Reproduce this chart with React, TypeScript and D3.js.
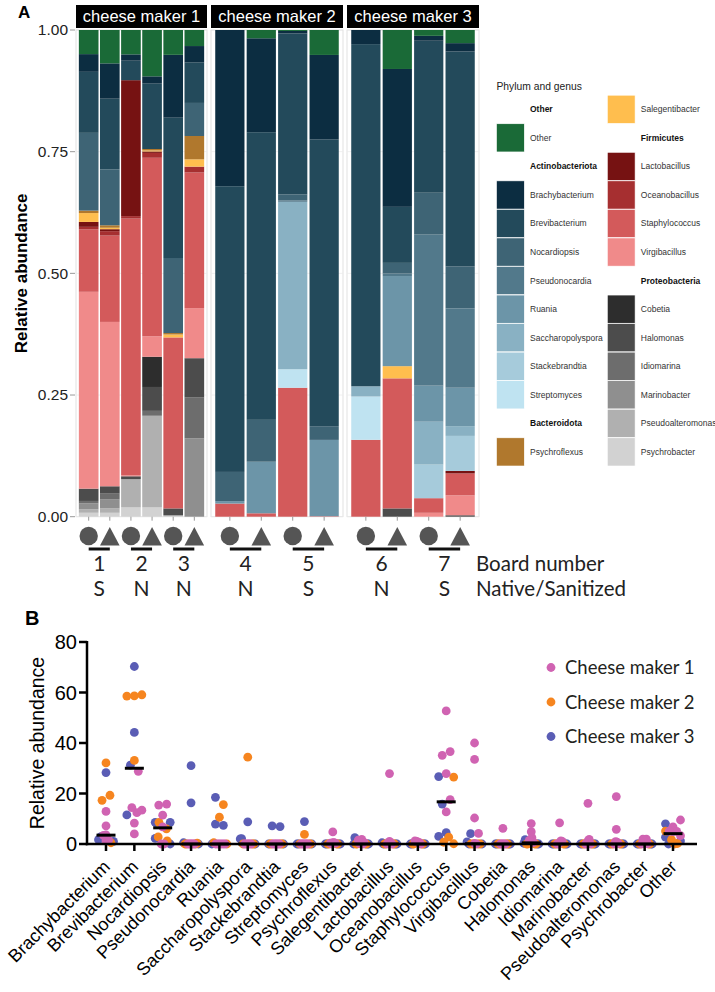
import * as d3 from 'd3';

// genera, in legend / stacking order (top of bar first)
const genera = [
  'Other', 'Brachybacterium', 'Brevibacterium', 'Nocardiopsis', 'Pseudonocardia', 'Ruania',
  'Saccharopolyspora', 'Stackebrandtia', 'Streptomyces', 'Psychroflexus', 'Salegentibacter',
  'Lactobacillus', 'Oceanobacillus', 'Staphylococcus', 'Virgibacillus', 'Cobetia', 'Halomonas',
  'Idiomarina', 'Marinobacter', 'Pseudoalteromonas', 'Psychrobacter',
];
const genusColors = [
  '#1a6a37', '#0c2d41', '#234a5b', '#3e6475', '#52798b', '#6c95a8',
  '#89b1c3', '#a6cbdb', '#bfe3f1', '#b0782d', '#ffbe4e',
  '#761212', '#a62f30', '#d35a5b', '#f08a8a', '#2d2d2d', '#4c4c4c',
  '#6d6d6d', '#8f8f8f', '#b0b0b0', '#d2d2d2',
];

const legendLeft = [
  { text: 'Other', header: true }, { text: 'Other' },
  { text: 'Actinobacteriota', header: true }, { text: 'Brachybacterium' }, { text: 'Brevibacterium' },
  { text: 'Nocardiopsis' }, { text: 'Pseudonocardia' }, { text: 'Ruania' }, { text: 'Saccharopolyspora' },
  { text: 'Stackebrandtia' }, { text: 'Streptomyces' },
  { text: 'Bacteroidota', header: true }, { text: 'Psychroflexus' },
];
const legendRight = [
  { text: 'Salegentibacter' },
  { text: 'Firmicutes', header: true }, { text: 'Lactobacillus' }, { text: 'Oceanobacillus' },
  { text: 'Staphylococcus' }, { text: 'Virgibacillus' },
  { text: 'Proteobacteria', header: true }, { text: 'Cobetia' }, { text: 'Halomonas' },
  { text: 'Idiomarina' }, { text: 'Marinobacter' }, { text: 'Pseudoalteromonas' }, { text: 'Psychrobacter' },
];

// samples
const makers = ['cheese maker 1', 'cheese maker 2', 'cheese maker 3'];
const makerLegend = ['Cheese maker 1', 'Cheese maker 2', 'Cheese maker 3'];
const makerColors = ['#d063b2', '#f6851f', '#5a5db5'];
const sampleMaker = [0, 0, 0, 0, 0, 0, 1, 1, 1, 1, 2, 2, 2, 2];
const sampleBoard = [0, 0, 1, 1, 2, 2, 3, 3, 4, 4, 5, 5, 6, 6];
const sampleShape = ['circle', 'triangle', 'circle', 'triangle', 'circle', 'triangle', 'circle',
  'triangle', 'circle', 'triangle', 'circle', 'triangle', 'circle', 'triangle'];
const boards = ['1', '2', '3', '4', '5', '6', '7'];
const boardTreatment = ['S', 'N', 'N', 'N', 'S', 'N', 'S'];

// relative abundance (%), one row per genus, one column per sample
const abundance = [
  [4.9, 6.8, 5.0, 9.5, 5.1, 3.3, 0, 1.7, 0.2, 5.1, 0, 8.0, 1.2, 2.7], // Other
  [3.6, 7.2, 1.3, 1.5, 12.9, 3.4, 32.1, 19.3, 0.5, 17.3, 2.9, 28.3, 1.0, 1.7],
  [12.4, 14.4, 4.0, 13.4, 28.8, 8.3, 58.7, 59.1, 33.1, 58.6, 70.3, 11.5, 31.2, 44.2],
  [15.8, 11.4, 0, 0, 15.4, 6.8, 6.0, 8.6, 1.2, 2.8, 0, 2.2, 8.6, 8.6],
  [0, 0, 0, 0, 0, 0, 0, 0, 0.3, 0, 0, 0.5, 31.0, 16.3],
  [0, 0, 0, 0, 0, 0, 0.5, 10.6, 0, 15.6, 0, 18.5, 7.4, 7.9],
  [0, 0, 0, 0, 0, 0, 0, 0, 34.4, 0, 2.1, 0, 8.8, 2.0],
  [0, 0, 0, 0, 0, 0, 0, 0, 0, 0, 0, 0, 6.9, 7.2],
  [0, 0, 0, 0, 0, 0, 0, 0, 3.8, 0, 8.9, 0, 0, 0],
  [0.5, 0.5, 0, 0.3, 0.3, 4.8, 0, 0, 0, 0, 0, 0, 0, 0],
  [1.8, 0.3, 0, 0.2, 0.6, 1.5, 0, 0, 0, 0, 0, 2.5, 0, 0],
  [1.0, 0.4, 27.9, 0.3, 0, 0, 0, 0, 0, 0, 0, 0, 0, 0.5],
  [0.5, 0.9, 0.5, 1.0, 0, 1.2, 0, 0, 0, 0, 0, 0, 0, 0],
  [12.7, 17.6, 52.7, 36.6, 35.1, 27.9, 2.7, 0.7, 26.5, 0.1, 15.8, 26.7, 3.0, 4.5],
  [40.0, 33.5, 0.2, 4.2, 0, 10.3, 0, 0, 0, 0, 0, 0, 0.8, 4.1],
  [0, 0, 0, 6.2, 0, 0, 0, 0, 0, 0, 0, 0, 0, 0],
  [2.5, 1.5, 0.6, 4.9, 1.4, 8.1, 0, 0, 0, 0, 0, 1.7, 0, 0.3],
  [0.5, 1.2, 0, 1.0, 0, 8.4, 0, 0, 0, 0, 0, 0, 0, 0],
  [1.2, 1.8, 0, 0, 0, 16.1, 0, 0, 0, 0, 0, 0, 0, 0],
  [0.7, 0.9, 5.8, 18.8, 0.2, 0, 0, 0, 0, 0, 0, 0, 0, 0],
  [0.8, 0.8, 1.9, 1.9, 0.1, 0, 0, 0, 0, 0, 0, 0, 0, 0], // Psychrobacter
];

const yTicksA = [0, 0.25, 0.5, 0.75, 1];
const yTicksB = [0, 20, 40, 60, 80];

const ARIAL = 'Liberation Sans, Arial, sans-serif';
const MYRIAD = 'Lato, sans-serif';

// panel B genus order: Other goes last
const generaB = [...genera.slice(1), 'Other'];

function swarmOffsets(vals: number[], yScale: (v: number) => number, r: number) {
  const order = d3.range(vals.length).sort((a, b) => vals[a] - vals[b] || sampleMaker[a] - sampleMaker[b]);
  const clusters: number[][] = [];
  order.forEach((i) => {
    const last = clusters[clusters.length - 1];
    if (last && Math.abs(yScale(vals[last[0]]) - yScale(vals[i])) < r * 1.7) last.push(i);
    else clusters.push([i]);
  });
  const off = new Array(vals.length).fill(0);
  clusters.forEach((c) => {
    const k = c.length;
    if (k === 1) return;
    const s = Math.min(2 * r * 0.9, 15 / (k - 1));
    const slots = d3.range(k).map((j) => (j - (k - 1) / 2) * s).sort((a, b) => Math.abs(a) - Math.abs(b) || b - a);
    const members = [...c].sort((a, b) => sampleMaker[a] - sampleMaker[b] || a - b);
    members.forEach((m, j) => (off[m] = slots[j]));
  });
  return off;
}

const App = () => {
  // ---------- panel A ----------
  const yA = d3.scaleLinear().domain([0, 1]).range([516.7, 30]);
  const facetRange: [number, number][] = [[76, 207], [211, 343], [347, 479]];

  const rows = sampleMaker.map((_, s) => Object.fromEntries(genera.map((g, gi) => [g, abundance[gi][s]])));
  const series = d3.stack<any>().keys([...genera].reverse()).offset(d3.stackOffsetExpand)(rows);

  // bar centre / width per sample
  const barX: number[] = [];
  const barW: number[] = [];
  makers.forEach((_, f) => {
    const idx = d3.range(sampleMaker.length).filter((i) => sampleMaker[i] === f);
    const xs = d3.scaleLinear().domain([0.4, idx.length + 0.6]).range(facetRange[f]);
    idx.forEach((s, k) => {
      barX[s] = xs(k + 1);
      barW[s] = xs(1.465) - xs(0.535);
    });
  });

  const colorOf = d3.scaleOrdinal<string, string>().domain(genera).range(genusColors);

  // ---------- panel B ----------
  const xB = d3.scalePoint().domain(generaB).range([106, 673]);
  const yB = d3.scaleLinear().domain([0, 80]).range([844, 642]);
  const r = 4.4;

  const points: { x: number; y: number; m: number }[] = [];
  const medians: { x: number; y: number }[] = [];
  generaB.forEach((g) => {
    const vals = abundance[genera.indexOf(g)];
    const off = swarmOffsets(vals, yB, r);
    vals.forEach((v, s) => points.push({ x: xB(g)! + off[s], y: yB(v), m: sampleMaker[s] }));
    medians.push({ x: xB(g)!, y: yB(d3.median(vals)!) });
  });
  const drawOrder = [2, 1, 0];

  const legendRowY = (i: number) => 109.3 + i * 28.55;

  return (
    <svg width={715} height={992} style={{ position: 'absolute', left: 0, top: 0, background: '#fff' }}>
      {/* ===== Panel A ===== */}
      <text x={18} y={18} fontFamily={ARIAL} fontWeight="bold" fontSize={17}>A</text>
      <text transform={`translate(27,${yA(0.5)}) rotate(-90)`} textAnchor="middle" fontFamily={ARIAL}
        fontWeight="bold" fontSize={17}>Relative abundance</text>
      {yTicksA.map((t) => (
        <g key={t}>
          <text x={68} y={yA(t)} dy="0.35em" textAnchor="end" fontFamily={ARIAL} fontSize={15.5} fill="#222">
            {d3.format('.2f')(t)}
          </text>
          <line x1={70} x2={75} y1={yA(t)} y2={yA(t)} stroke="#999" strokeWidth={1} />
        </g>
      ))}

      {facetRange.map(([x0, x1], f) => (
        <g key={f}>
          <rect x={x0} y={30} width={x1 - x0} height={yA(0) - 30} fill="#fff" stroke="#d9d9d9" strokeWidth={0.8} />
          {yTicksA.map((t) => (
            <line key={t} x1={x0} x2={x1} y1={yA(t)} y2={yA(t)} stroke="#ececec" strokeWidth={0.8} />
          ))}
          <rect x={x0} y={5} width={x1 - x0} height={23} fill="#000" />
          <text x={(x0 + x1) / 2} y={16.5} dy="0.35em" textAnchor="middle" fill="#fff" fontFamily={ARIAL}
            fontSize={16.5}>{makers[f]}</text>
        </g>
      ))}

      {series.map((ser) => (
        <g key={ser.key} fill={colorOf(ser.key)}>
          {ser.map((d, s) => (
            <rect key={s} x={barX[s] - barW[s] / 2} width={barW[s]} y={yA(d[1])}
              height={Math.max(0, yA(d[0]) - yA(d[1]))} />
          ))}
        </g>
      ))}

      {/* x ticks, shapes, board info */}
      {barX.map((x, s) => (
        <g key={s}>
          <line x1={x} x2={x} y1={yA(0)} y2={yA(0) + 4} stroke="#999" />
          {sampleShape[s] === 'circle' ? (
            <circle cx={x} cy={536} r={9.2} fill="#555" />
          ) : (
            <path d={`M${x - 9.8},545.5L${x + 9.8},545.5L${x},527Z`} fill="#555" />
          )}
        </g>
      ))}
      {boards.map((b, bi) => {
        const idx = d3.range(sampleBoard.length).filter((i) => sampleBoard[i] === bi);
        const xa = barX[idx[0]];
        const xb = barX[idx[1]];
        return (
          <g key={b}>
            <line x1={xa} x2={xb} y1={549} y2={549} stroke="#111" strokeWidth={3} />
            <text x={(xa + xb) / 2} y={571} textAnchor="middle" fontFamily={MYRIAD} fontSize={21} fill="#222">{b}</text>
            <text x={(xa + xb) / 2} y={596} textAnchor="middle" fontFamily={MYRIAD} fontSize={21} fill="#222">
              {boardTreatment[bi]}
            </text>
          </g>
        );
      })}
      <text x={476} y={571} fontFamily={MYRIAD} fontSize={20.5} fill="#222">Board number</text>
      <text x={476} y={596} fontFamily={MYRIAD} fontSize={20.5} fill="#222">Native/Sanitized</text>

      {/* legend A */}
      <text x={496.5} y={89.5} fontFamily={ARIAL} fontSize={10.3} fill="#222">Phylum and genus</text>
      {[legendLeft, legendRight].map((col, ci) => {
        const kx = ci === 0 ? 496.5 : 607.3;
        return col.map((e, i) => {
          const cy = legendRowY(i);
          return (
            <g key={`${ci}-${i}`}>
              {!e.header && (
                <rect x={kx} y={cy - 14.1} width={27.8} height={28.2} fill={colorOf(e.text)} stroke="#fff"
                  strokeWidth={0.6} />
              )}
              <text x={kx + 33.5} y={cy} dy="0.35em" fontFamily={ARIAL} fontSize={8.5}
                fontWeight={e.header ? 'bold' : 'normal'} fill={e.header ? '#111' : '#333'}>{e.text}</text>
            </g>
          );
        });
      })}

      {/* ===== Panel B ===== */}
      <text x={25} y={625} fontFamily={ARIAL} fontWeight="bold" fontSize={20}>B</text>
      <text transform={`translate(44,${yB(40)}) rotate(-90)`} textAnchor="middle" fontFamily={ARIAL}
        fontSize={19.5}>Relative abundance</text>
      {yTicksB.map((t) => (
        <g key={t}>
          <line x1={79} x2={87} y1={yB(t)} y2={yB(t)} stroke="#000" strokeWidth={2.5} />
          <text x={77} y={yB(t)} dy="0.36em" textAnchor="end" fontFamily={ARIAL} fontSize={20}>{t}</text>
        </g>
      ))}
      <line x1={87} x2={87} y1={yB(80) - 1} y2={yB(0) + 1.25} stroke="#000" strokeWidth={2.5} />

      {drawOrder.map((m) => (
        <g key={m} fill={makerColors[m]}>
          {points.filter((p) => p.m === m).map((p, i) => (
            <circle key={i} cx={p.x} cy={p.y} r={r} />
          ))}
        </g>
      ))}

      <line x1={85.75} x2={697} y1={yB(0)} y2={yB(0)} stroke="#000" strokeWidth={2.5} />
      {generaB.map((g) => (
        <g key={g}>
          <line x1={xB(g)} x2={xB(g)} y1={yB(0)} y2={yB(0) + 7} stroke="#000" strokeWidth={2.5} />
          <text transform={`translate(${xB(g)! + 5},${868}) rotate(-45)`} textAnchor="end" fontFamily={ARIAL}
            fontSize={18}>{g}</text>
        </g>
      ))}
      {medians.map((d, i) => (
        <line key={i} x1={d.x - 9.5} x2={d.x + 9.5} y1={d.y} y2={d.y} stroke="#000" strokeWidth={3} />
      ))}

      {makerLegend.map((t, i) => (
        <g key={t}>
          <circle cx={551} cy={667.5 + i * 34.5} r={4.4} fill={makerColors[i]} />
          <text x={565} y={667.5 + i * 34.5} dy="0.36em" fontFamily={MYRIAD} fontSize={18.5} fill="#231f20">{t}</text>
        </g>
      ))}
    </svg>
  );
};

export default App;
